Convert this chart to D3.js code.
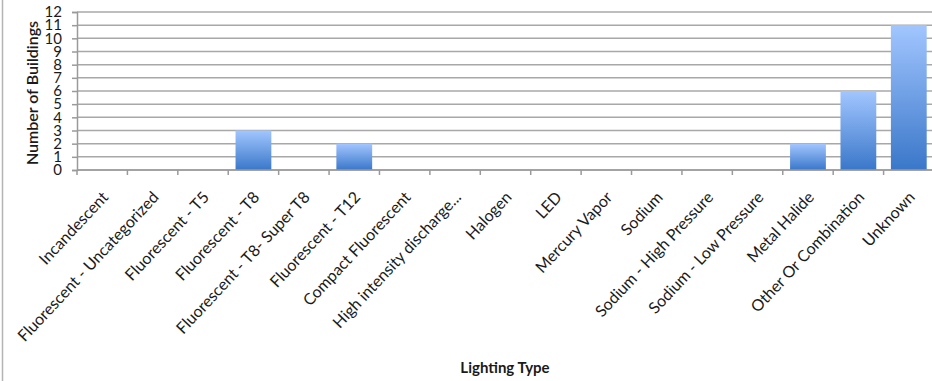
<!DOCTYPE html>
<html>
<head>
<meta charset="utf-8">
<script src="https://cdn.jsdelivr.net/npm/d3@7/dist/d3.min.js"></script>
<style>
  html, body { margin: 0; padding: 0; background: #fff; }
  svg { display: block; }
  text { font-family: Lato, "Open Sans", "DejaVu Sans", sans-serif; fill: #1a1a1a; }
</style>
</head>
<body>
<svg id="chart" width="932" height="381"></svg>
<script>
// Lighting types and the number of buildings using each
const categories = [
  "Incandescent",
  "Fluorescent - Uncategorized",
  "Fluorescent - T5",
  "Fluorescent - T8",
  "Fluorescent - T8- Super T8",
  "Fluorescent - T12",
  "Compact Fluorescent",
  "High intensity discharge...",
  "Halogen",
  "LED",
  "Mercury Vapor",
  "Sodium",
  "Sodium - High Pressure",
  "Sodium - Low Pressure",
  "Metal Halide",
  "Other Or Combination",
  "Unknown"
];
const buildings = [0, 0, 0, 3, 0, 2, 0, 0, 0, 0, 0, 0, 0, 0, 2, 6, 11];
const yTicks = [0, 1, 2, 3, 4, 5, 6, 7, 8, 9, 10, 11, 12];

const svg = d3.select("#chart");
const margin = { left: 77, top: 12, bottom: 170, right: 934 };

const x = d3.scaleBand()
  .domain(categories)
  .range([margin.left, margin.right])
  .paddingInner(0.29)
  .paddingOuter(0.145);

const y = d3.scaleLinear()
  .domain([0, 12])
  .range([margin.bottom, margin.top]);

// outer frame line on the left
svg.append("line")
  .attr("x1", 2.5).attr("x2", 2.5)
  .attr("y1", 0).attr("y2", 381)
  .attr("stroke", "#b4b4b4").attr("stroke-width", 1.5);

// bar fill gradient
const defs = svg.append("defs");
const grad = defs.append("linearGradient")
  .attr("id", "barGrad")
  .attr("x1", 0).attr("y1", 0).attr("x2", 0).attr("y2", 1);
grad.append("stop").attr("offset", "0%").attr("stop-color", "#a2c6ff");
grad.append("stop").attr("offset", "100%").attr("stop-color", "#3a77c9");

// horizontal gridlines
svg.append("g")
  .selectAll("line")
  .data(yTicks)
  .join("line")
  .attr("x1", margin.left).attr("x2", 932)
  .attr("y1", d => y(d)).attr("y2", d => y(d))
  .attr("stroke", "#a8a8a8").attr("stroke-width", 1.5);

// bars
svg.append("g")
  .selectAll("rect")
  .data(categories.map((c, i) => ({ c, v: buildings[i] })).filter(d => d.v > 0))
  .join("rect")
  .attr("x", d => x(d.c))
  .attr("width", x.bandwidth())
  .attr("y", d => y(d.v))
  .attr("height", d => y(0) - y(d.v))
  .attr("fill", "url(#barGrad)");

// y axis
const yAxis = svg.append("g")
  .attr("transform", `translate(${margin.left},0)`)
  .call(d3.axisLeft(y).tickValues(yTicks).tickSize(5).tickPadding(10));
yAxis.select(".domain").attr("stroke", "#9a9a9a").attr("stroke-width", 1.5);
yAxis.selectAll(".tick line").attr("stroke", "#9a9a9a").attr("stroke-width", 1.5);
yAxis.selectAll(".tick text")
  .attr("font-size", 15)
  .attr("font-family", "Lato, sans-serif")
  .attr("fill", "#1a1a1a");

// x axis baseline and category boundary ticks
const step = x.step();
const bounds = d3.range(categories.length + 1).map(i => margin.left + i * step);
svg.append("line")
  .attr("x1", margin.left).attr("x2", 932)
  .attr("y1", y(0)).attr("y2", y(0))
  .attr("stroke", "#9a9a9a").attr("stroke-width", 1.5);
svg.append("g")
  .selectAll("line")
  .data(bounds)
  .join("line")
  .attr("x1", d => d).attr("x2", d => d)
  .attr("y1", y(0)).attr("y2", y(0) + 5)
  .attr("stroke", "#9a9a9a").attr("stroke-width", 1.5);

// rotated category labels
svg.append("g")
  .selectAll("text")
  .data(categories)
  .join("text")
  .attr("transform", d => `translate(${x(d) + x.bandwidth() / 2 + 7},${y(0) + 28}) rotate(-47)`)
  .attr("text-anchor", "end")
  .attr("font-size", 16)
  .text(d => d);

// axis titles
svg.append("text")
  .attr("transform", `translate(38,${(12 + 170) / 2 + 2}) rotate(-90)`)
  .attr("text-anchor", "middle")
  .attr("font-size", 16)
  .attr("font-weight", 600)
  .text("Number of Buildings");

svg.append("text")
  .attr("x", 505).attr("y", 373)
  .attr("text-anchor", "middle")
  .attr("font-size", 15)
  .attr("font-weight", "bold")
  .text("Lighting Type");
</script>
</body>
</html>
